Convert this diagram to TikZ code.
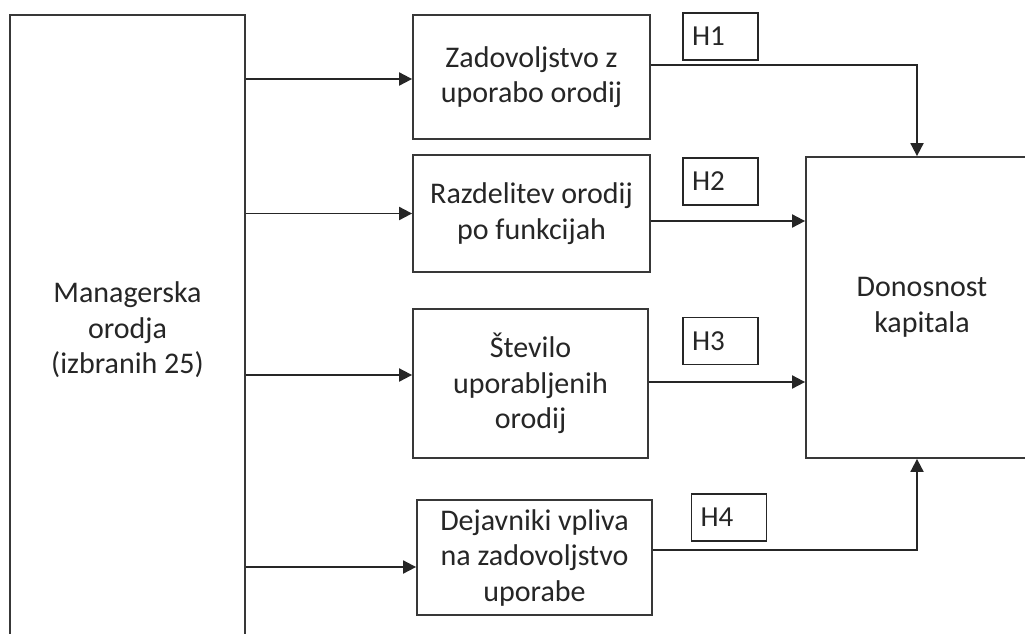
\documentclass[tikz,border=0pt]{standalone}
\usepackage{fontspec}
\setmainfont{Carlito}
\usetikzlibrary{arrows.meta}
\begin{document}
\begin{tikzpicture}[x=1pt,y=-1pt,
  box/.style={draw=black!78,line width=1.8pt,inner sep=0pt,align=center,
    font=\fontsize{30}{35.5}\selectfont,text=black!85},
  hbox/.style={draw=black!85,line width=1.8pt,minimum width=75pt,minimum height=47pt,
    inner xsep=9pt,inner ysep=0pt,text width=57pt,align=left,
    font=\fontsize{29}{34}\selectfont,text=black!85},
  conn/.style={draw=black!85,line width=1.9pt},
  arr/.style={conn,-{Triangle[length=13pt,width=13pt]}}]
\useasboundingbox (0,0) rectangle (1025,633);
\clip (0,0) rectangle (1025,633);
\fill[white] (0,0) rectangle (1025,633);
% main boxes
\node[box,minimum width=235pt,minimum height=630pt] (L) at (127.5,330) {Managerska\\orodja\\(izbranih 25)};
\node[box,minimum width=237pt,minimum height=124pt] (b1) at (531.5,77) {Zadovoljstvo z\\uporabo orodij};
\node[box,minimum width=237pt,minimum height=117pt] (b2) at (531.5,213.5) {Razdelitev orodij\\po funkcijah};
\node[box,minimum width=235pt,minimum height=149pt] (b3) at (530.5,383.5) {Število\\uporabljenih\\orodij};
\node[box,minimum width=235pt,minimum height=115pt] (b4) at (534.5,557.5) {Dejavniki vpliva\\na zadovoljstvo\\uporabe};
\node[box,minimum width=232pt,minimum height=301pt] (R) at (922,307.5) {Donosnost\\kapitala};
% hypothesis labels
\node[hbox] (h1) at (720.5,36.5) {H1};
\node[hbox] (h2) at (720.5,181.5) {H2};
\node[hbox] (h3) at (720.5,341) {H3};
\node[hbox] (h4) at (729,517.5) {H4};
% inputs
\draw[arr] ([yshift=-2pt]b1.west -| L.east) -- ([yshift=-2pt]b1.west);
\draw[arr] (b2.west -| L.east) -- (b2.west);
\draw[arr] ([yshift=8.5pt]b3.west -| L.east) -- ([yshift=8.5pt]b3.west);
\draw[arr] ([yshift=-9.5pt]b4.west -| L.east) -- ([yshift=-9.5pt]b4.west);
% outputs
\draw[arr] ([yshift=12pt]b1.east) -| ([xshift=-5pt]R.north);
\draw[arr] ([yshift=-7.5pt]b2.east) -- ([yshift=-7.5pt]b2.east -| R.west);
\draw[arr] ([yshift=1.5pt]b3.east) -- ([yshift=1.5pt]b3.east -| R.west);
\draw[arr] ([yshift=7.5pt]b4.east) -| ([xshift=-5pt]R.south);
\end{tikzpicture}
\end{document}
